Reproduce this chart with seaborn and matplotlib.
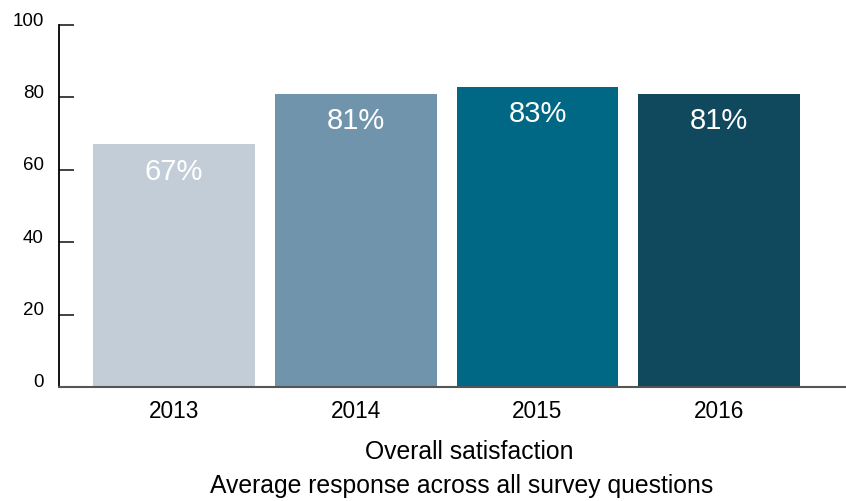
import matplotlib
matplotlib.use("Agg")
import matplotlib.pyplot as plt
import matplotlib.transforms as mtransforms
import seaborn as sns
import pandas as pd

# donnees
years = ["2013", "2014", "2015", "2016"]
scores = [67, 81, 83, 81]
labels = ["67%", "81%", "83%", "81%"]
colors = ["#c3cdd7", "#7094ab", "#006884", "#10485d"]

df = pd.DataFrame({"year": years, "score": scores})

sns.set_style("white")
plt.rcParams["font.family"] = ["Liberation Sans", "DejaVu Sans"]
plt.rcParams["text.color"] = "black"
plt.rcParams["xtick.color"] = "black"
plt.rcParams["ytick.color"] = "black"

fig = plt.figure(figsize=(8.46, 5.02), dpi=100)
ax = fig.add_axes([59 / 846, 114 / 502, 787 / 846, 362 / 502])

sns.barplot(data=df, x="year", y="score", hue="year", palette=colors,
            width=0.89, legend=False, saturation=1, linewidth=0, ax=ax)

# etiquettes blanches dans les barres
for bar, lab in zip(ax.patches, labels):
    ax.annotate(lab, (bar.get_x() + bar.get_width() / 2, bar.get_height()),
                xytext=(0, -19), textcoords="offset points",
                ha="center", va="center", color="white", fontsize=21)

ax.set_ylim(0, 100)
ax.set_xlim(-0.633, 3.698)
ax.set_yticks([0, 20, 40, 60, 80, 100])
ax.set_xlabel("")
ax.set_ylabel("")

for s in ["top", "right"]:
    ax.spines[s].set_visible(False)
ax.spines["left"].set_color("black")
ax.spines["left"].set_linewidth(1.3)
ax.spines["bottom"].set_color("#555555")
ax.spines["bottom"].set_linewidth(1.5)

ax.tick_params(axis="y", left=True, direction="in", length=11, width=1.3,
               color="#333333", pad=11, labelsize=13.5, labelcolor="black")
ax.tick_params(axis="x", bottom=False, length=0, pad=9, labelsize=16.3,
               labelcolor="black")

# decaler les etiquettes de l'axe y vers le haut
offset = mtransforms.ScaledTranslation(0, 7 / 100, fig.dpi_scale_trans)
for t in ax.get_yticklabels():
    t.set_transform(t.get_transform() + offset)

fig.text(469 / 846, 1 - 452 / 502, "Overall satisfaction", ha="center",
         va="center", fontsize=17.8, color="black")
fig.text(462 / 846, 1 - 486 / 502, "Average response across all survey questions",
         ha="center", va="center", fontsize=17.8, color="black")

fig.savefig("out.png", dpi=100)
